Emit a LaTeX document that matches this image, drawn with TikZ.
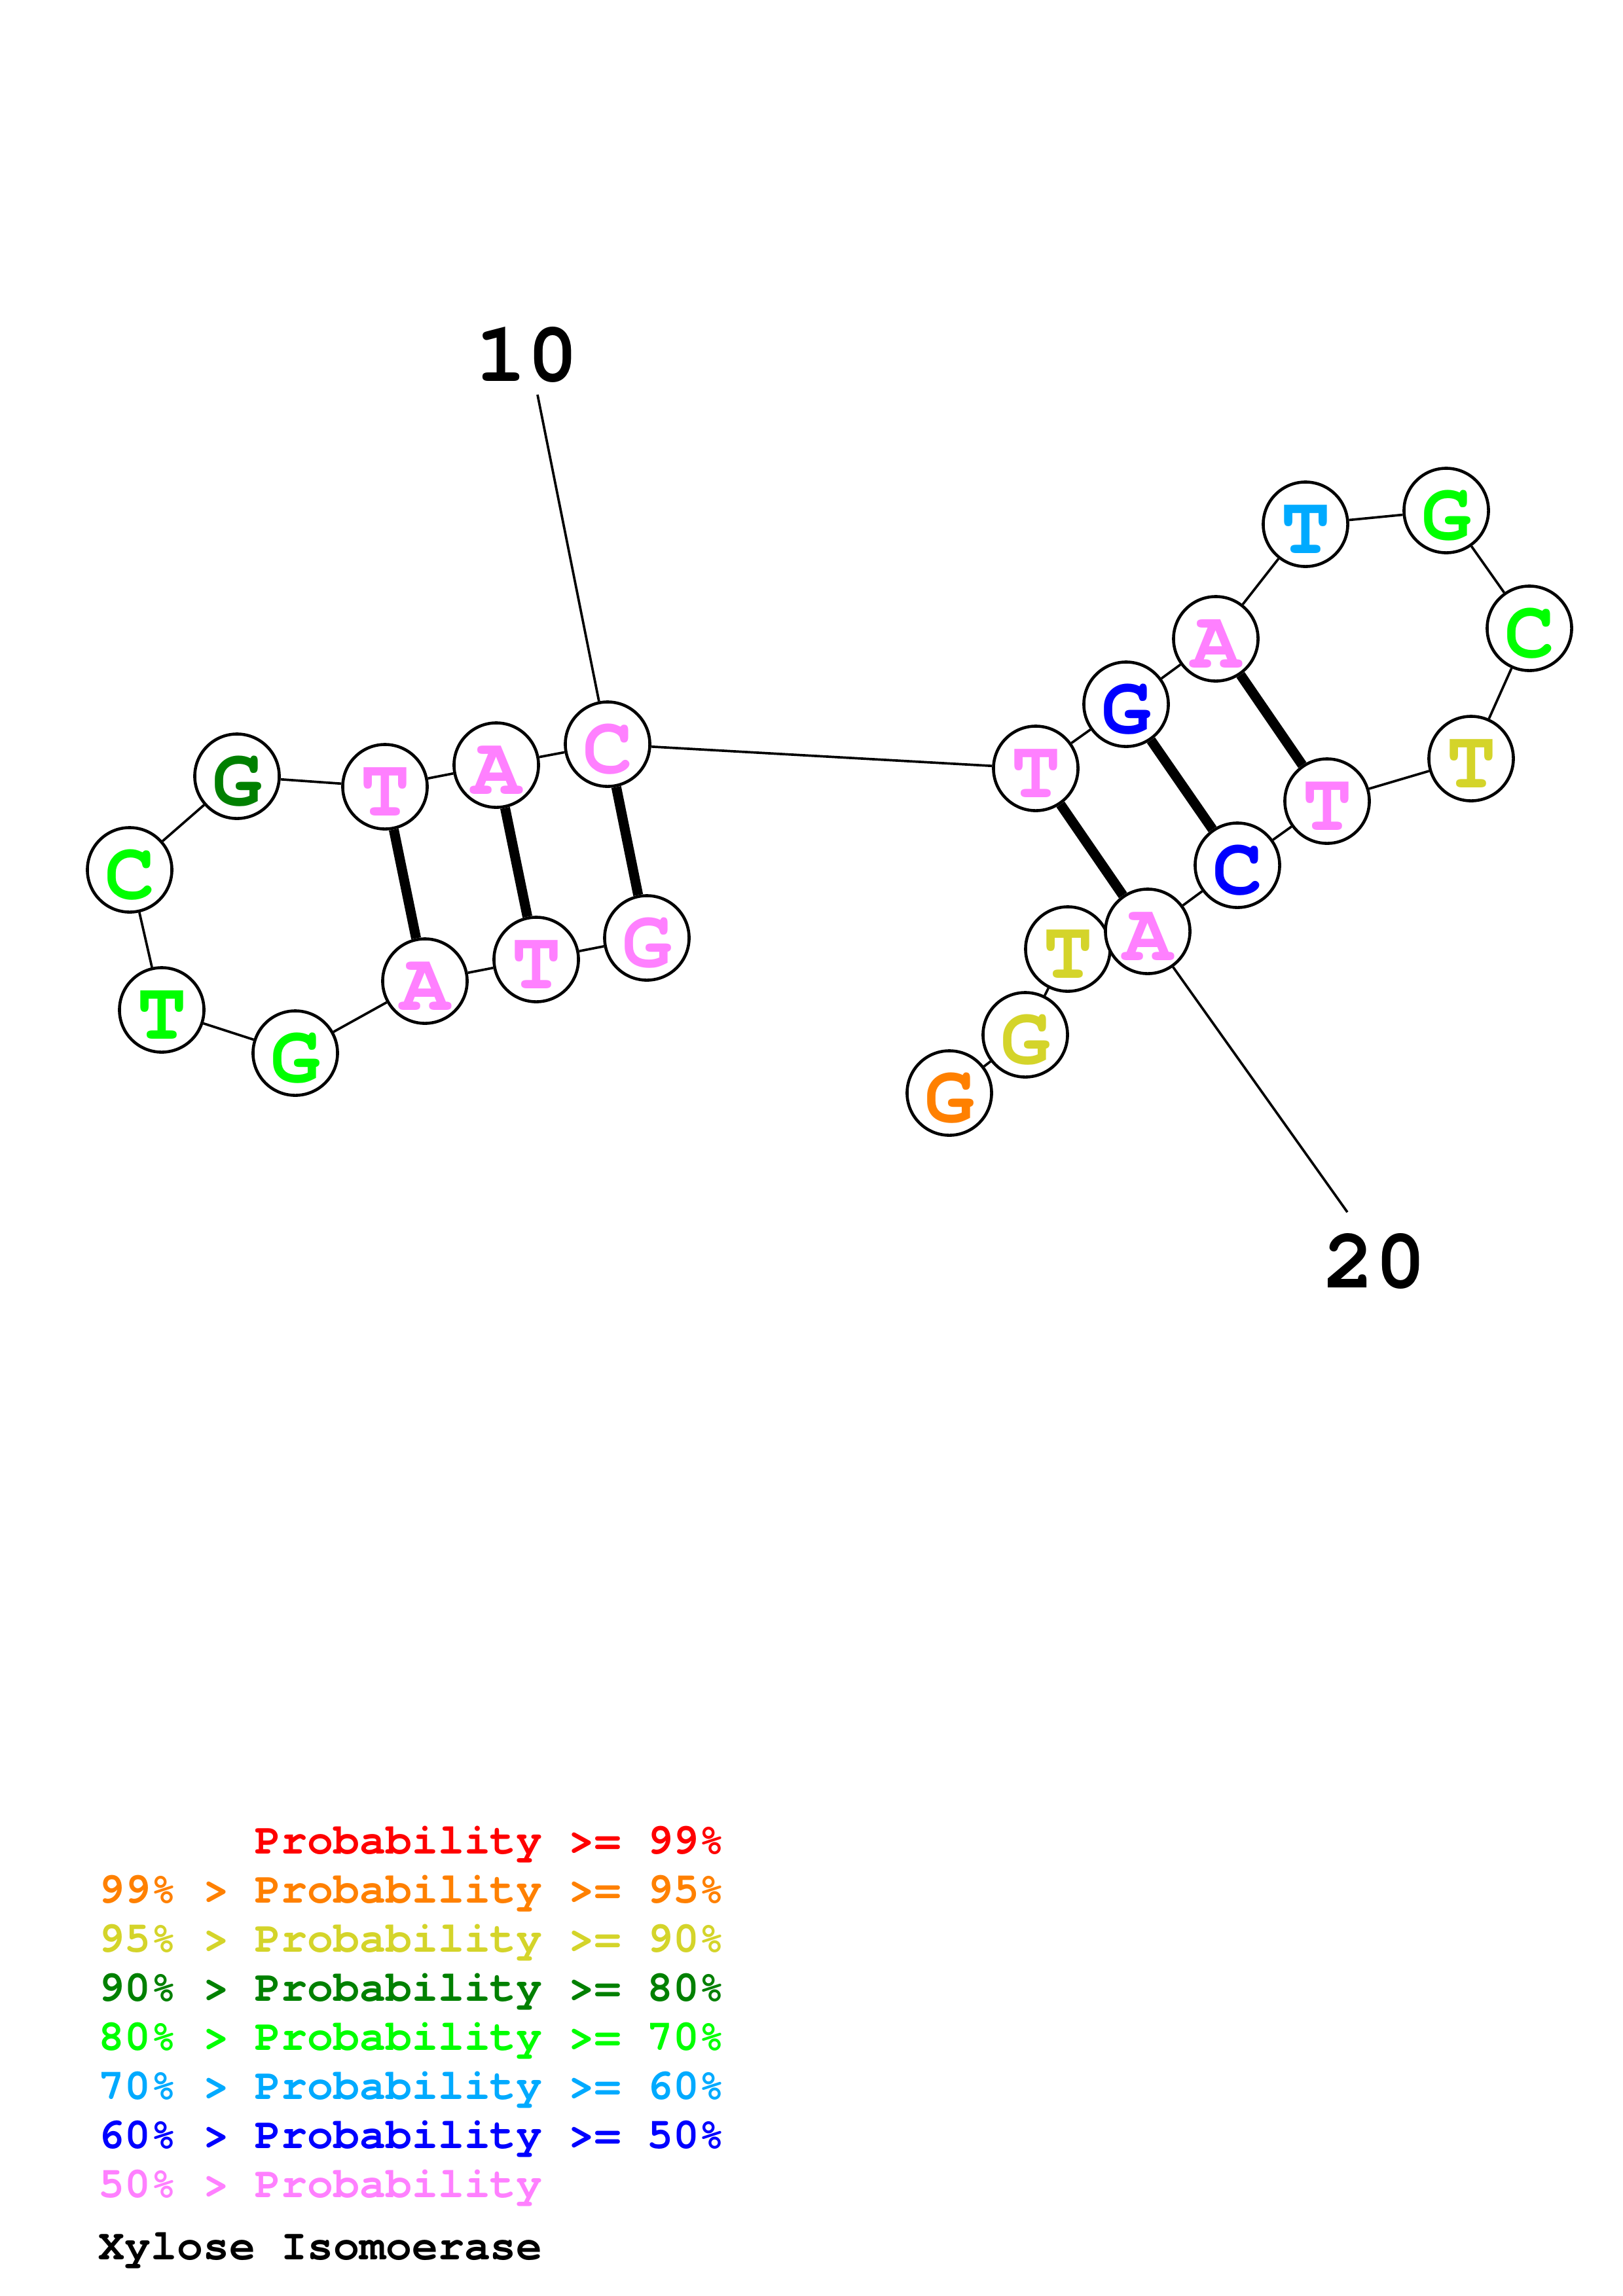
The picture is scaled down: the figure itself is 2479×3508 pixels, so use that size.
\documentclass[tikz,border=0pt]{standalone}
\usepackage{fontspec}
\setmonofont{TeX Gyre Cursor}
\usetikzlibrary{backgrounds}

\definecolor{prob99}{RGB}{255,0,0}
\definecolor{prob95}{RGB}{255,128,0}
\definecolor{prob90}{RGB}{212,212,42}
\definecolor{prob80}{RGB}{0,128,0}
\definecolor{prob70}{RGB}{0,255,0}
\definecolor{prob60}{RGB}{0,170,255}
\definecolor{prob50}{RGB}{0,0,255}
\definecolor{problow}{RGB}{255,128,255}

\begin{document}
\begin{tikzpicture}[x=0.01cm,y=-0.01cm,
  base node/.style={circle,draw,fill=white,line width=1.3pt,minimum size=1.29cm,inner sep=0pt,
    font=\ttfamily\bfseries\fontsize{36}{36}\selectfont,text height=0.89cm,text depth=0cm},
  num node/.style={inner sep=0pt,font=\ttfamily\bfseries\fontsize{37}{37}\selectfont},
  key node/.style={inner sep=0pt,anchor=base west,font=\ttfamily\bfseries\fontsize{18.9}{18.9}\selectfont},
  backbone/.style={line width=1.05pt},
  pair/.style={line width=4.3pt}]

 \useasboundingbox (0,0) rectangle (2479,3508);

 % first hairpin
 \node[base node,text=problow] (1) at (988,1433) {G};
 \node[base node,text=problow] (2) at (819,1466) {T};
 \node[base node,text=problow] (3) at (649,1499) {A};
 \node[base node,text=prob70] (4) at (451,1609) {G};
 \node[base node,text=prob70] (5) at (247,1543) {T};
 \node[base node,text=prob70] (6) at (198,1329) {C};
 \node[base node,text=prob80] (7) at (362,1186) {G};
 \node[base node,text=problow] (8) at (588,1202) {T};
 \node[base node,text=problow] (9) at (758,1169) {A};
 \node[base node,text=problow] (10) at (928,1137) {C};

 % second hairpin
 \node[base node,text=problow] (11) at (1582,1174) {T};
 \node[base node,text=prob50] (12) at (1720,1076) {G};
 \node[base node,text=problow] (13) at (1857,976) {A};
 \node[base node,text=prob60] (14) at (1994,801) {T};
 \node[base node,text=prob70] (15) at (2209,780) {G};
 \node[base node,text=prob70] (16) at (2336,960) {C};
 \node[base node,text=prob90] (17) at (2247,1159) {T};
 \node[base node,text=problow] (18) at (2027,1224) {T};
 \node[base node,text=prob50] (19) at (1890,1322) {C};
 \node[base node,text=prob95] (23) at (1450,1670) {G};
 \node[base node,text=prob90] (22) at (1566,1581) {G};
 \node[base node,text=prob90] (21) at (1631,1450) {T};
 \node[base node,text=problow] (20) at (1753,1423) {A};

 % numbering
 \node[num node] (n10) at (805,542) {10};
 \node[num node] (n20) at (2100,1927) {20};
 \coordinate (t10) at (821,603);
 \coordinate (t20) at (2058,1852);

 \begin{pgfonlayer}{background}
 \path[backbone]
    (1) edge (2)  (2) edge (3)  (3) edge (4)  (4) edge (5)
    (5) edge (6)  (6) edge (7)  (7) edge (8)  (8) edge (9)
    (9) edge (10)  (10) edge (11)  (11) edge (12)  (12) edge (13)
    (13) edge (14)  (14) edge (15)  (15) edge (16)  (16) edge (17)
    (17) edge (18)  (18) edge (19)  (19) edge (20)  (20) edge (21)
    (21) edge (22)  (22) edge (23)
    (10) edge (t10)
    (20) edge (t20);
 \path[pair]
    (1) edge (10)  (2) edge (9)  (3) edge (8)
    (11) edge (20)  (12) edge (19)  (13) edge (18);
 \end{pgfonlayer}

 % key
 \node[key node,text=prob99] (k99) at (150,2832) {\hphantom{99\% > }Probability >= 99\%};
 \node[key node,text=prob95] (k95) at (150,2907) {99\% > Probability >= 95\%};
 \node[key node,text=prob90] (k90) at (150,2982) {95\% > Probability >= 90\%};
 \node[key node,text=prob80] (k80) at (150,3057) {90\% > Probability >= 80\%};
 \node[key node,text=prob70] (k70) at (150,3132) {80\% > Probability >= 70\%};
 \node[key node,text=prob60] (k60) at (150,3207) {70\% > Probability >= 60\%};
 \node[key node,text=prob50] (k50) at (150,3282) {60\% > Probability >= 50\%};
 \node[key node,text=problow] (klow) at (150,3357) {50\% > Probability};
 \node[key node] (title) at (150,3452) {Xylose Isomoerase};

\end{tikzpicture}
\end{document}
